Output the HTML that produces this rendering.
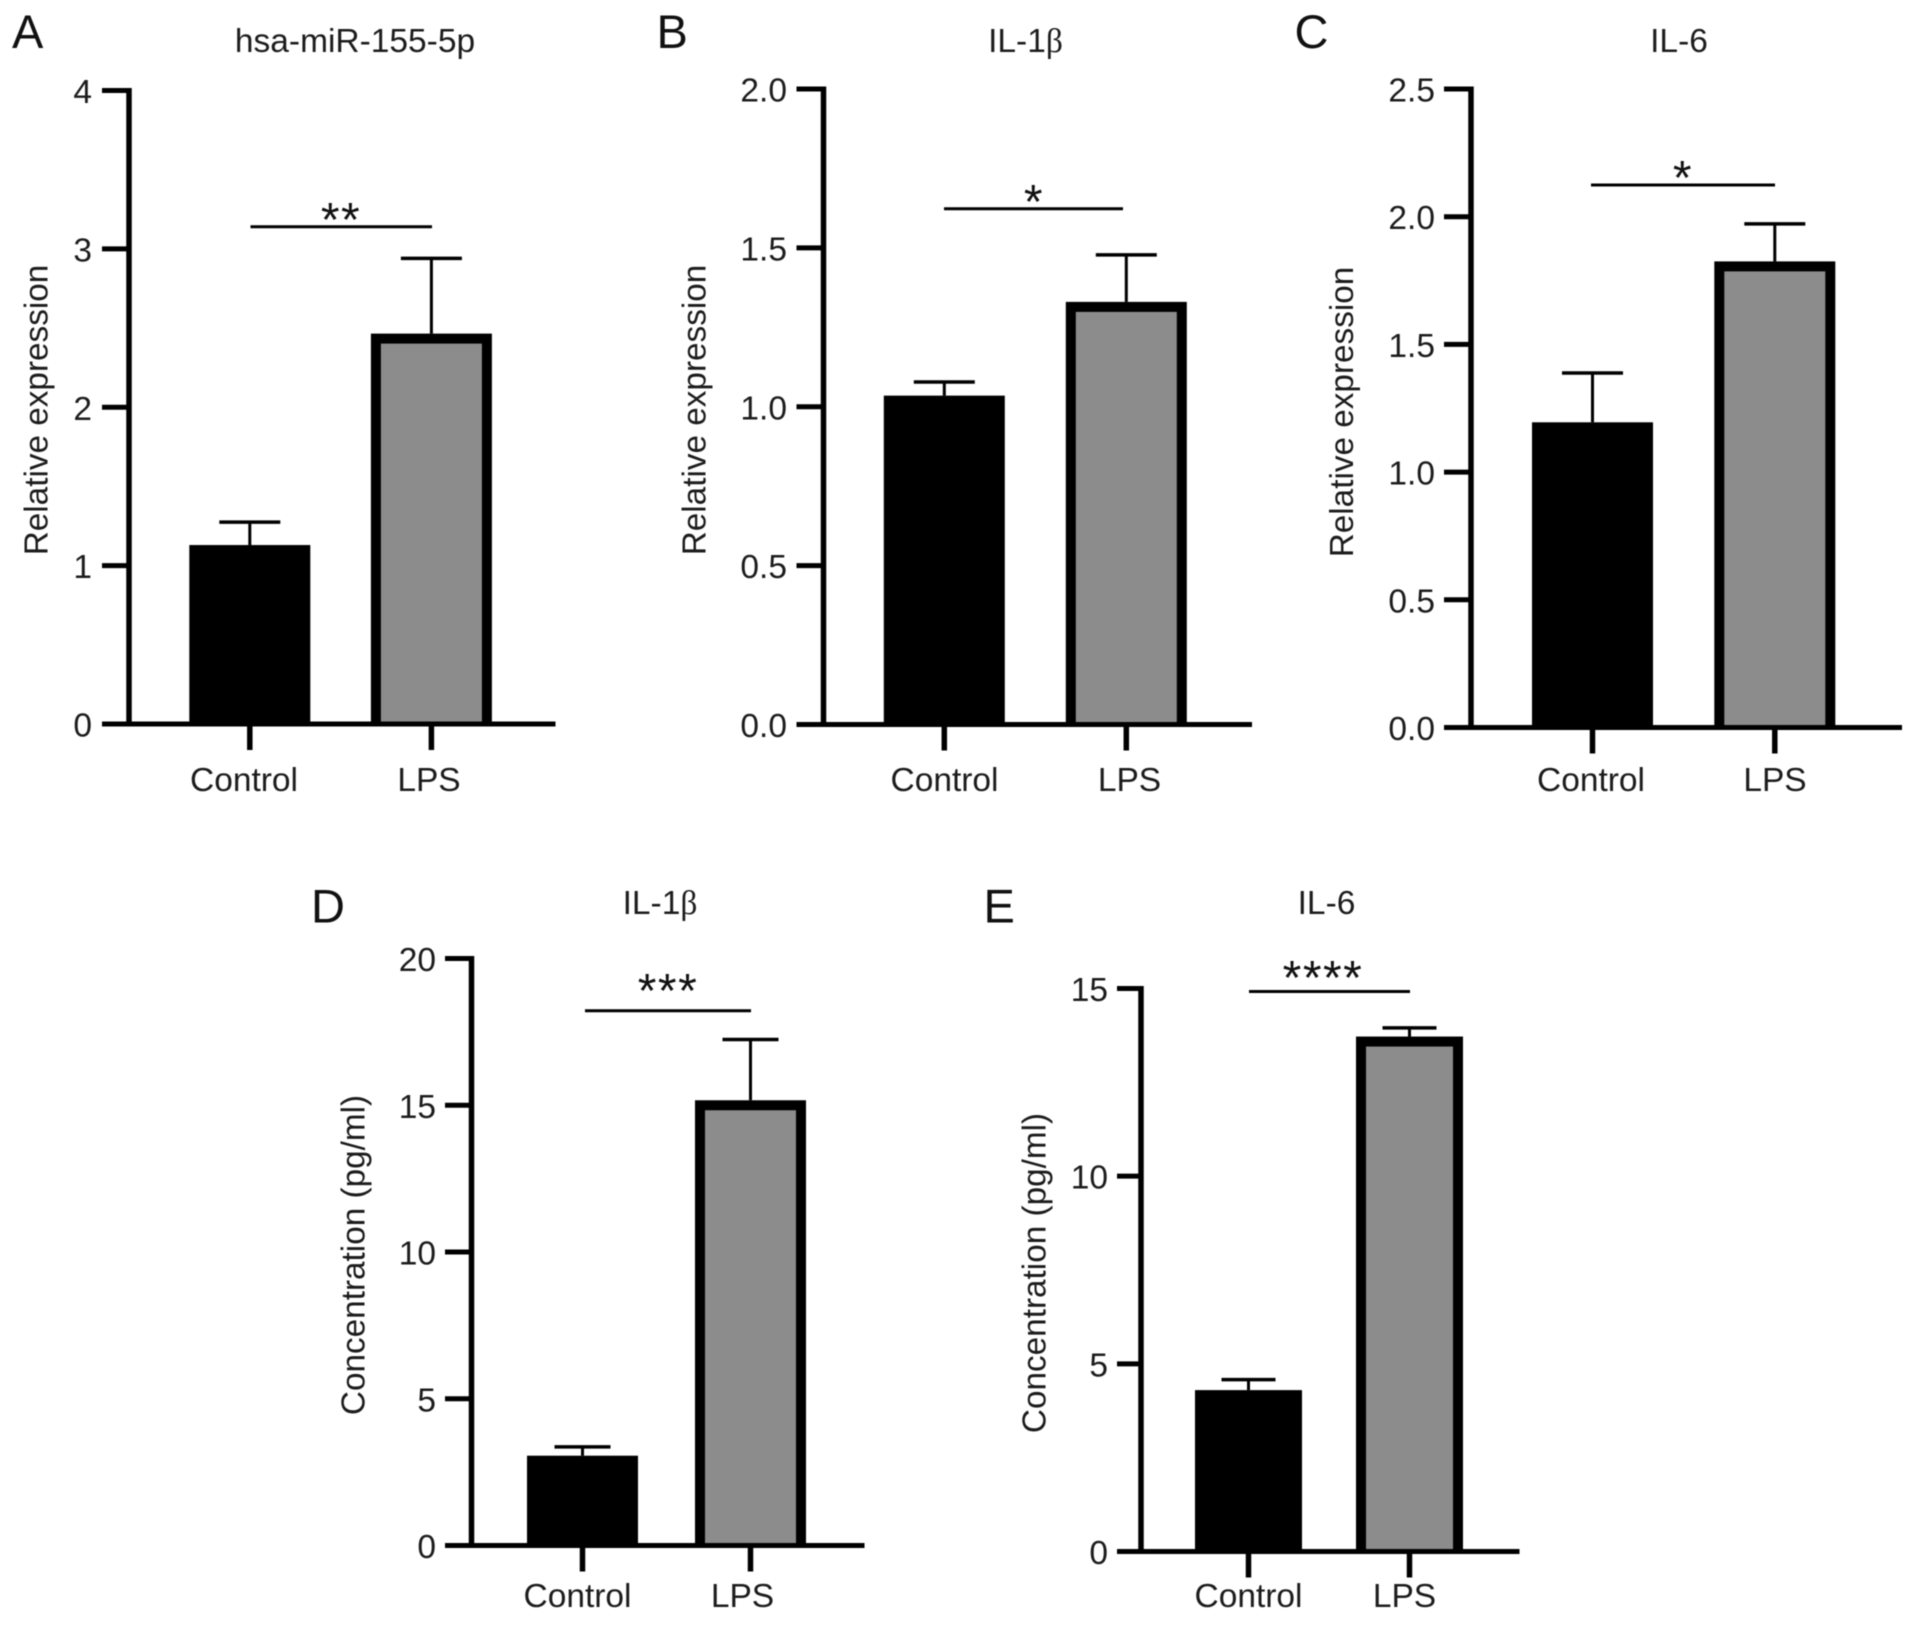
<!DOCTYPE html>
<html lang="en">
<head>
<meta charset="utf-8">
<title>LPS expression bar charts</title>
<style>
html,body{margin:0;padding:0;background:#fff;}
svg{display:block;filter:blur(0.55px);}
text{font-family:"Liberation Sans",sans-serif;fill:#1c1c1c;}
.tick{font-size:33.5px;text-anchor:end;}
.cat{font-size:33.5px;text-anchor:middle;}
.title{font-size:33.5px;text-anchor:middle;}
.ytitle{font-size:33.3px;text-anchor:middle;}
.letter{font-size:47px;fill:#111;}
.stars{font-size:48px;text-anchor:middle;letter-spacing:1.5px;fill:#111;}
</style>
</head>
<body>
<svg id="figure" xmlns="http://www.w3.org/2000/svg" width="1913" height="1628" viewBox="0 0 1913 1628">
  <rect x="0" y="0" width="1913" height="1628" fill="#fff"/>

  <text class="letter" x="12" y="48">A</text>
  <text class="letter" x="656.5" y="48">B</text>
  <text class="letter" x="1294.5" y="48">C</text>
  <text class="letter" x="311" y="922.5">D</text>
  <text class="letter" x="983.5" y="922.5">E</text>

  <text class="title" x="355" y="52">hsa-miR-155-5p</text>
  <text class="title" x="1025.5" y="52">IL-1<tspan font-family="Liberation Serif, serif">β</tspan></text>
  <text class="title" x="1679" y="52">IL-6</text>
  <text class="title" x="660" y="914">IL-1<tspan font-family="Liberation Serif, serif">β</tspan></text>
  <text class="title" x="1326.5" y="914">IL-6</text>

  <text class="ytitle" transform="translate(47.5,410) rotate(-90)">Relative expression</text>
  <text class="ytitle" transform="translate(705.5,410) rotate(-90)">Relative expression</text>
  <text class="ytitle" transform="translate(1353,412) rotate(-90)">Relative expression</text>
  <text class="ytitle" transform="translate(364.5,1255) rotate(-90)">Concentration (pg/ml)</text>
  <text class="ytitle" transform="translate(1045.5,1273) rotate(-90)">Concentration (pg/ml)</text>

  <g id="marks"></g>
</svg>

<script>
// Data
const categories = ['Control', 'LPS'];

const panelATicks = [0, 1, 2, 3, 4];
const panelATickLabels = ['0', '1', '2', '3', '4'];
const panelAMeans = [1.13, 2.465];
const panelAErrors = [0.145, 0.475];
const panelASignificance = 3.14;

const panelBTicks = [0, 0.5, 1, 1.5, 2];
const panelBTickLabels = ['0.0', '0.5', '1.0', '1.5', '2.0'];
const panelBMeans = [1.035, 1.33];
const panelBErrors = [0.043, 0.148];
const panelBSignificance = 1.623;

const panelCTicks = [0, 0.5, 1, 1.5, 2, 2.5];
const panelCTickLabels = ['0.0', '0.5', '1.0', '1.5', '2.0', '2.5'];
const panelCMeans = [1.195, 1.825];
const panelCErrors = [0.193, 0.147];
const panelCSignificance = 2.124;

const panelDTicks = [0, 5, 10, 15, 20];
const panelDTickLabels = ['0', '5', '10', '15', '20'];
const panelDMeans = [3.06, 15.17];
const panelDErrors = [0.3, 2.07];
const panelDSignificance = 18.22;

const panelETicks = [0, 5, 10, 15];
const panelETickLabels = ['0', '5', '10', '15'];
const panelEMeans = [4.3, 13.72];
const panelEErrors = [0.28, 0.23];
const panelESignificance = 14.92;

// Layout of each panel
const panels = [
  {id:'a', ticks:panelATicks, labels:panelATickLabels, means:panelAMeans, errors:panelAErrors, sig:panelASignificance, stars:'**',
   axisX:129, top:90.5, base:724, tickLeft:102, right:555.5, labelX:92, centers:[249.8,431.4], barW:121, capW:61, catX:[244,429], catY:791, starX:341, starY:208, sigLeft:250.5, sigRight:432},
  {id:'b', ticks:panelBTicks, labels:panelBTickLabels, means:panelBMeans, errors:panelBErrors, sig:panelBSignificance, stars:'*',
   axisX:823.5, top:89, base:724.5, tickLeft:796.5, right:1252, labelX:787, centers:[944.3,1126.3], barW:121, capW:61, catX:[944.5,1129.5], catY:791, starX:1034, starY:190, sigLeft:944, sigRight:1123},
  {id:'c', ticks:panelCTicks, labels:panelCTickLabels, means:panelCMeans, errors:panelCErrors, sig:panelCSignificance, stars:'*',
   axisX:1471, top:89, base:727.5, tickLeft:1444, right:1902, labelX:1435, centers:[1592.5,1774.8], barW:121, capW:61, catX:[1591,1775], catY:791, starX:1683, starY:166, sigLeft:1591, sigRight:1775},
  {id:'d', ticks:panelDTicks, labels:panelDTickLabels, means:panelDMeans, errors:panelDErrors, sig:panelDSignificance, stars:'***',
   axisX:471.5, top:958.5, base:1545.5, tickLeft:445, right:864.5, labelX:436, centers:[582.5,750.5], barW:111, capW:56, catX:[577.5,742.5], catY:1607, starX:668, starY:979, sigLeft:585, sigRight:751},
  {id:'e', ticks:panelETicks, labels:panelETickLabels, means:panelEMeans, errors:panelEErrors, sig:panelESignificance, stars:'****',
   axisX:1141, top:988.5, base:1551.5, tickLeft:1117, right:1519.5, labelX:1108, centers:[1248.5,1409.5], barW:107, capW:54, catX:[1248.5,1404.5], catY:1607, starX:1323, starY:966, sigLeft:1249, sigRight:1410}
];

const SVG_NS = 'http://www.w3.org/2000/svg';
const marks = document.getElementById('marks');
const OUTLINE = 10;

function makeLine(parent, x1, y1, x2, y2, width) {
  const el = document.createElementNS(SVG_NS, 'line');
  el.setAttribute('x1', x1);
  el.setAttribute('y1', y1);
  el.setAttribute('x2', x2);
  el.setAttribute('y2', y2);
  el.setAttribute('stroke', '#000');
  el.setAttribute('stroke-width', width);
  parent.appendChild(el);
  return el;
}

function makeRect(parent, x, y, w, h, fill) {
  const el = document.createElementNS(SVG_NS, 'rect');
  el.setAttribute('x', x);
  el.setAttribute('y', y);
  el.setAttribute('width', w);
  el.setAttribute('height', Math.max(0, h));
  el.setAttribute('fill', fill);
  parent.appendChild(el);
  return el;
}

function makeText(parent, cls, x, y, content) {
  const el = document.createElementNS(SVG_NS, 'text');
  el.setAttribute('class', cls);
  el.setAttribute('x', x);
  el.setAttribute('y', y);
  el.textContent = content;
  parent.appendChild(el);
  return el;
}

panels.forEach(function (p) {
  const group = document.createElementNS(SVG_NS, 'g');
  
  
  marks.appendChild(group);

  const maxTick = p.ticks[p.ticks.length - 1];
  const yScale = function (v) { return p.base - (v / maxTick) * (p.base - p.top); };

  // error bars behind the bars
  p.means.forEach(function (mean, i) {
    const cx = p.centers[i];
    const capY = yScale(mean + p.errors[i]);
    const stem = makeLine(group, cx, yScale(mean), cx, capY, 3);
    
    
    const cap = makeLine(group, cx - p.capW / 2, capY, cx + p.capW / 2, capY, 3.5);
    
    
  });

  // bars: a black body, with a gray fill inside the outlined LPS bar
  p.means.forEach(function (mean, i) {
    const cx = p.centers[i];
    const topY = yScale(mean);
    const left = cx - p.barW / 2;
    const bar = makeRect(group, left, topY, p.barW, p.base - topY, '#000');
    
    
    if (i === 1) {
      const fill = makeRect(group, left + OUTLINE, topY + OUTLINE, p.barW - OUTLINE * 2, p.base - topY - OUTLINE, '#8c8c8c');
      
      
    }
  });

  // y axis
  const yAxis = makeLine(group, p.axisX, p.top - 2.5, p.axisX, p.base + 2.5, 5.5);
  
  

  p.ticks.forEach(function (t, i) {
    const y = yScale(t);
    const tick = makeLine(group, p.tickLeft, y, p.axisX, y, 5);
    
    
    const label = makeText(group, 'tick', p.labelX, y + 12.5, p.labels[i]);
    
    
  });

  // x axis
  const xAxis = makeLine(group, p.tickLeft, p.base, p.right, p.base, 5);
  
  

  categories.forEach(function (c, i) {
    const tick = makeLine(group, p.centers[i], p.base, p.centers[i], p.base + 26, 5.5);
    
    
    const label = makeText(group, 'cat', p.catX[i], p.catY, c);
    
    
  });

  // significance bracket
  const sigY = yScale(p.sig);
  const sigLine = makeLine(group, p.sigLeft, sigY, p.sigRight, sigY, 3);
  
  
  const stars = makeText(group, 'stars', p.starX, p.starY + 28, p.stars);
  
  
});
</script>
</body>
</html>
